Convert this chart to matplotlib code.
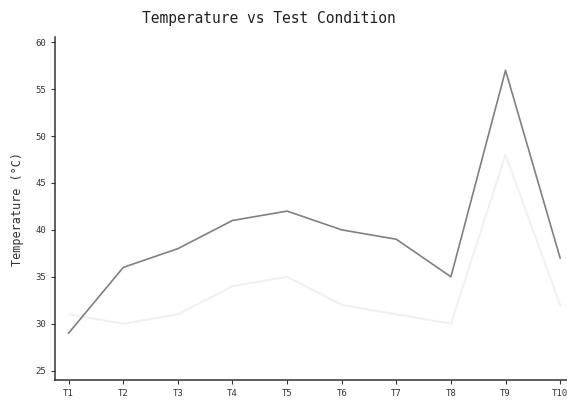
import matplotlib
matplotlib.use("Agg")
import matplotlib.pyplot as plt

conditions = ["T1", "T2", "T3", "T4", "T5", "T6", "T7", "T8", "T9", "T10"]
temp_a = [29, 36, 38, 41, 42, 40, 39, 35, 57, 37]
temp_b = [31, 30, 31, 34, 35, 32, 31, 30, 48, 32]
y_ticks = [25, 30, 35, 40, 45, 50, 55, 60]

plt.rcParams['font.family'] = ['DejaVu Sans Mono']

fig = plt.figure(figsize=(5.67, 4.03), dpi=100)
ax = fig.add_axes([0.097, 0.057, 0.915, 0.85])

x = list(range(len(conditions)))
ax.plot(x, temp_b, color='#f0f0f0', linewidth=1.5)
ax.plot(x, temp_a, color='#808080', linewidth=1.2)

ax.set_xlim(-0.25, 9.25)
ax.set_ylim(24, 60.5)
ax.set_xticks(x)
ax.set_xticklabels(conditions)
ax.set_yticks(y_ticks)

for side in ['top', 'right']:
    ax.spines[side].set_visible(False)
for side in ['left', 'bottom']:
    ax.spines[side].set_color('#333333')
    ax.spines[side].set_linewidth(1.1)

ax.tick_params(axis='both', labelsize=6.5, colors='#333333', length=3, width=0.8)
ax.set_ylabel('Temperature (°C)', fontsize=8.5, color='#333333', labelpad=8)
fig.text(0.474, 0.955, 'Temperature vs Test Condition', fontsize=10.5,
         color='#222222', ha='center', va='center')

fig.savefig('out.png', dpi=100)
